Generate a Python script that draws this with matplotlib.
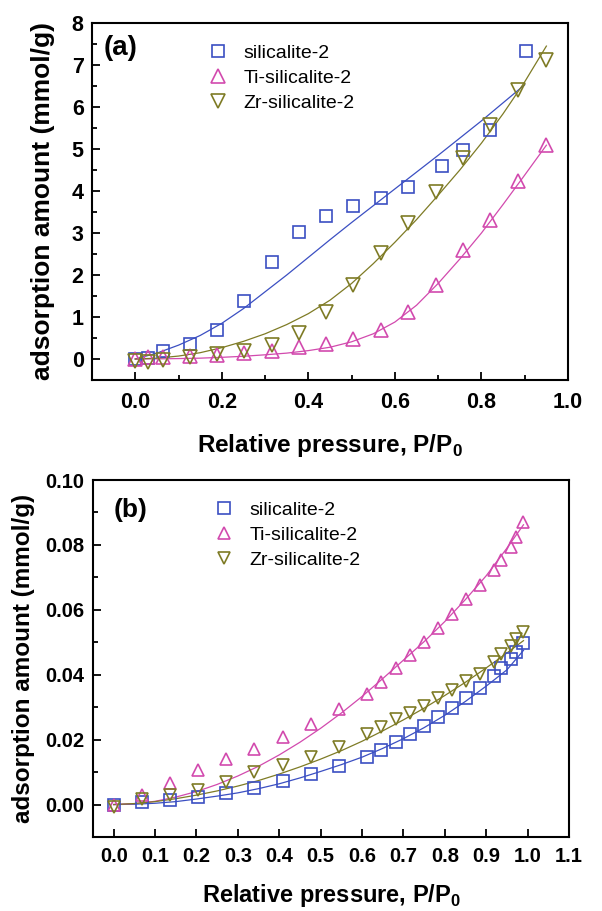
import matplotlib
matplotlib.use("Agg")
import matplotlib.pyplot as plt
from matplotlib.ticker import MultipleLocator, FormatStrFormatter

plt.rcParams['font.family'] = ['Liberation Sans', 'DejaVu Sans']
plt.rcParams['mathtext.fontset'] = 'custom'
plt.rcParams['mathtext.rm'] = 'Liberation Sans'
plt.rcParams['mathtext.bf'] = 'Liberation Sans:bold'

# ---------------- panel (a) data ----------------
a_si_x = [0, 0.03, 0.063, 0.126, 0.19, 0.252, 0.315, 0.378, 0.441, 0.504, 0.567, 0.63, 0.708, 0.758, 0.82, 0.902]
a_si_y = [0, 0.02, 0.2, 0.36, 0.70, 1.38, 2.32, 3.03, 3.41, 3.65, 3.84, 4.09, 4.59, 4.98, 5.45, 7.34]
a_m_x = [0, 0.03, 0.063, 0.126, 0.19, 0.252, 0.315, 0.378, 0.441, 0.504, 0.567, 0.63, 0.695, 0.758, 0.82, 0.885, 0.95]
a_ti_y = [0, 0.04, 0.05, 0.08, 0.1, 0.15, 0.2, 0.28, 0.36, 0.48, 0.70, 1.12, 1.76, 2.59, 3.32, 4.23, 5.09]
a_zr_y = [-0.04, -0.06, -0.02, 0.04, 0.12, 0.2, 0.33, 0.62, 1.12, 1.77, 2.52, 3.24, 3.98, 4.78, 5.56, 6.41, 7.13]

a_fit_x = [0, 0.05, 0.1, 0.15, 0.2, 0.25, 0.3, 0.35, 0.4, 0.45, 0.5, 0.55, 0.6, 0.65, 0.7, 0.75, 0.8, 0.85, 0.9, 0.95]
a_si_fit = [0, 0.14, 0.33, 0.56, 0.85, 1.2, 1.6, 2.0, 2.42, 2.84, 3.25, 3.65, 4.05, 4.45, 4.85, 5.26, 5.67, 6.1, 6.53]
a_ti_fit = [0, 0.003, 0.01, 0.02, 0.04, 0.065, 0.1, 0.14, 0.2, 0.28, 0.41, 0.6, 0.88, 1.28, 1.8, 2.38, 3.0, 3.68, 4.38, 5.09]
a_zr_fit = [0, 0.02, 0.07, 0.15, 0.27, 0.42, 0.6, 0.82, 1.08, 1.4, 1.8, 2.27, 2.78, 3.32, 3.9, 4.5, 5.14, 5.84, 6.6, 7.45]

# ---------------- panel (b) data ----------------
b_x = [0, 0.068, 0.136, 0.204, 0.272, 0.34, 0.408, 0.476, 0.544, 0.612, 0.646, 0.681, 0.715,
       0.749, 0.783, 0.817, 0.851, 0.885, 0.919, 0.935, 0.96, 0.972, 0.988]
b_si_y = [0, 0.0007, 0.0014, 0.0022, 0.0037, 0.005, 0.0072, 0.0095, 0.0118, 0.0146, 0.0169, 0.0192, 0.0216,
          0.0242, 0.027, 0.0297, 0.0329, 0.0359, 0.0395, 0.0422, 0.0447, 0.047, 0.0498]
b_ti_y = [0, 0.0028, 0.0066, 0.0107, 0.0139, 0.0172, 0.0208, 0.0247, 0.0293, 0.0341, 0.0379, 0.042, 0.0462,
          0.0502, 0.0545, 0.0587, 0.0633, 0.0678, 0.0722, 0.0755, 0.0794, 0.0823, 0.0871]
b_zr_y = [-0.0007, 0.0017, 0.003, 0.0044, 0.0071, 0.0099, 0.0123, 0.0146, 0.0176, 0.0216, 0.0239, 0.0264, 0.0282,
          0.0305, 0.0329, 0.0354, 0.038, 0.0403, 0.0439, 0.0465, 0.049, 0.051, 0.0532]

b_fit_x = [0, 0.05, 0.1, 0.15, 0.2, 0.25, 0.3, 0.35, 0.4, 0.45, 0.5, 0.55, 0.6, 0.65, 0.7, 0.75, 0.8, 0.85, 0.9, 0.95, 0.99]
b_si_fit = [0, 0.0001, 0.0004, 0.0009, 0.0017, 0.0026, 0.0036, 0.0049, 0.0064, 0.0082, 0.0102, 0.0123, 0.0146,
            0.0173, 0.0203, 0.0237, 0.0275, 0.0318, 0.0365, 0.0415, 0.0475]
b_ti_fit = [0, 0.0003, 0.001, 0.0023, 0.004, 0.0062, 0.0088, 0.0118, 0.0153, 0.0192, 0.0235, 0.0282, 0.0333,
            0.0388, 0.0445, 0.0502, 0.0564, 0.0632, 0.0705, 0.079, 0.0862]
b_zr_fit = [0, 0.0003, 0.0009, 0.0018, 0.0029, 0.0042, 0.0057, 0.0074, 0.0094, 0.0116, 0.014, 0.0166, 0.0195,
            0.0227, 0.0261, 0.0297, 0.0336, 0.0377, 0.0421, 0.0467, 0.0505]

labels = ['silicalite-2', 'Ti-silicalite-2', 'Zr-silicalite-2']
colors = ['#3b4fc2', '#d24aae', '#7e7b25']

fig = plt.figure(figsize=(6.02, 9.11), dpi=100)
axA = fig.add_axes([92/602, 1-380/911, 476/602, 357/911])
axB = fig.add_axes([93/602, 1-837/911, 476/602, 357/911])


def style(ax, fs_tick, xpad):
    for s in ax.spines.values():
        s.set_linewidth(1.5)
    ax.tick_params(which='both', direction='in', top=False, right=False, width=1.3)
    ax.tick_params(which='major', length=6, pad=6, labelsize=fs_tick)
    ax.tick_params(axis='x', which='major', pad=xpad)
    ax.tick_params(which='minor', length=3.5)
    for lab in ax.get_xticklabels() + ax.get_yticklabels():
        lab.set_fontweight('bold')


# panel (a)
ms_a = 9
axA.plot(a_fit_x[:len(a_si_fit)], a_si_fit, color=colors[0], lw=0.9)
axA.plot(a_fit_x, a_ti_fit, color=colors[1], lw=0.9)
axA.plot(a_fit_x, a_zr_fit, color=colors[2], lw=0.9)
axA.plot(a_si_x, a_si_y, ls='none', marker='s', ms=ms_a, mfc='none', mec=colors[0], mew=1.2, label=labels[0])
axA.plot(a_m_x, a_ti_y, ls='none', marker='^', ms=ms_a + 0.5, mfc='none', mec=colors[1], mew=1.2, label=labels[1])
axA.plot(a_m_x, a_zr_y, ls='none', marker='v', ms=ms_a + 0.5, mfc='none', mec=colors[2], mew=1.2, label=labels[2])
axA.set_xlim(-0.1, 1.0)
axA.set_ylim(-0.5, 8)
axA.xaxis.set_major_locator(MultipleLocator(0.2))
axA.xaxis.set_minor_locator(MultipleLocator(0.1))
axA.yaxis.set_major_locator(MultipleLocator(1))
axA.yaxis.set_minor_locator(MultipleLocator(0.5))
axA.xaxis.set_major_formatter(FormatStrFormatter('%.1f'))
style(axA, 15.5, 9)
axA.set_xlabel(r'Relative pressure, P/P$_{\mathbf{0}}$', fontsize=17.5, fontweight='bold', labelpad=13)
axA.set_ylabel('adsorption amount (mmol/g)', fontsize=19, fontweight='bold')
axA.yaxis.set_label_coords(-0.078, 0.5)
axA.text(0.061, 0.93, '(a)', transform=axA.transAxes, fontsize=20, fontweight='bold', ha='center', va='center')
axA.legend(loc='upper left', bbox_to_anchor=(0.245, 0.94), frameon=False, fontsize=14,
           handlelength=1.0, handletextpad=0.8, labelspacing=0.38, borderpad=0, borderaxespad=0)

# panel (b)
ms_b = 8
axB.plot(b_fit_x, b_si_fit, color=colors[0], lw=0.9)
axB.plot(b_fit_x, b_ti_fit, color=colors[1], lw=0.9)
axB.plot(b_fit_x, b_zr_fit, color=colors[2], lw=0.9)
axB.plot(b_x, b_si_y, ls='none', marker='s', ms=ms_b, mfc='none', mec=colors[0], mew=1.2, label=labels[0])
axB.plot(b_x, b_ti_y, ls='none', marker='^', ms=ms_b + 1, mfc='none', mec=colors[1], mew=1.2, label=labels[1])
axB.plot(b_x, b_zr_y, ls='none', marker='v', ms=ms_b + 1, mfc='none', mec=colors[2], mew=1.2, label=labels[2])
axB.set_xlim(-0.05, 1.1)
axB.set_ylim(-0.01, 0.10)
axB.xaxis.set_major_locator(MultipleLocator(0.1))
axB.yaxis.set_major_locator(MultipleLocator(0.02))
axB.yaxis.set_minor_locator(MultipleLocator(0.01))
axB.xaxis.set_major_formatter(FormatStrFormatter('%.1f'))
axB.yaxis.set_major_formatter(FormatStrFormatter('%.2f'))
style(axB, 14.5, 7)
axB.set_xlabel(r'Relative pressure, P/P$_{\mathbf{0}}$', fontsize=17, fontweight='bold', labelpad=12)
axB.set_ylabel('adsorption amount (mmol/g)', fontsize=17.5, fontweight='bold')
axB.yaxis.set_label_coords(-0.122, 0.5)
axB.text(0.078, 0.915, '(b)', transform=axB.transAxes, fontsize=19, fontweight='bold', ha='center', va='center')
axB.legend(loc='upper left', bbox_to_anchor=(0.255, 0.94), frameon=False, fontsize=14,
           handlelength=1.0, handletextpad=0.8, labelspacing=0.38, borderpad=0, borderaxespad=0)

fig.savefig('out.png', dpi=100)
